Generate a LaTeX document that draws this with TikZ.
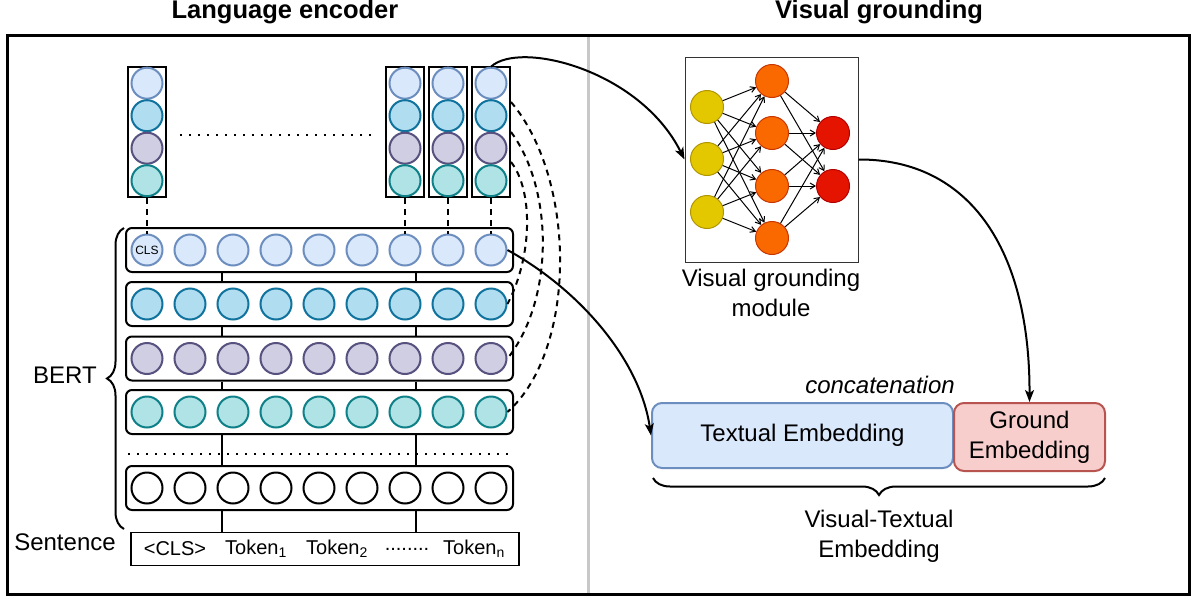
\documentclass[tikz,border=0pt]{standalone}
\usepackage{fontspec}
\setmainfont{Liberation Sans}
\usetikzlibrary{arrows.meta,decorations.pathreplacing,calc}
\definecolor{lbF}{HTML}{DAE8FC}\definecolor{lbD}{HTML}{6C8EBF}
\definecolor{blF}{HTML}{B1DDF0}\definecolor{blD}{HTML}{10739E}
\definecolor{puF}{HTML}{D0CEE2}\definecolor{puD}{HTML}{56517E}
\definecolor{teF}{HTML}{B0E3E6}\definecolor{teD}{HTML}{0E8088}
\definecolor{yeF}{HTML}{E3C800}\definecolor{yeD}{HTML}{B09500}
\definecolor{orF}{HTML}{FA6800}\definecolor{orD}{HTML}{C73500}
\definecolor{rdF}{HTML}{E51400}\definecolor{rdD}{HTML}{B20000}
\definecolor{roF}{HTML}{F8CECC}\definecolor{roD}{HTML}{B85450}
\definecolor{divgray}{HTML}{C8C8C8}
\begin{document}
\begin{tikzpicture}[x=1pt,y=-1pt,
  font=\fontsize{24}{30}\selectfont,
  cir/.style={circle,minimum size=31pt,inner sep=0pt,line width=2pt},
  cLB/.style={cir,fill=lbF,draw=lbD},
  cBL/.style={cir,fill=blF,draw=blD},
  cPU/.style={cir,fill=puF,draw=puD},
  cTE/.style={cir,fill=teF,draw=teD},
  cWH/.style={cir,fill=white,draw=black},
  nnc/.style={circle,minimum size=33pt,inner sep=0pt,line width=1pt},
  rowbox/.style={draw,line width=2pt,rounded corners=6pt,minimum width=387pt,minimum height=44pt,inner sep=0pt},
  colbox/.style={draw,line width=2pt,minimum width=38pt,minimum height=130pt,inner sep=0pt},
  conn/.style={line width=2pt},
  dashln/.style={line width=2pt,dash pattern=on 6pt off 5pt},
  dotln/.style={line width=2pt,dash pattern=on 2pt off 7pt},
  arr/.style={line width=2pt,-{Stealth[length=12pt,width=9pt,inset=3pt]}},
  nnarr/.style={line width=1pt,-{Straight Barb[length=5pt,width=6pt]}},
  bracedec/.style={line width=2pt,decorate,decoration={brace,amplitude=17pt}},
  embox/.style={line width=2pt,rounded corners=10pt,inner sep=0pt,align=center}
]
\useasboundingbox (0,0) rectangle (1195,600);

% titles
\node[font=\bfseries\fontsize{25.5}{30}\selectfont] (tl) at (285,12) {Language encoder};
\node[font=\bfseries\fontsize{25.5}{30}\selectfont] (tr) at (879,12) {Visual grounding};

% frame and divider
\draw[divgray,line width=3pt] (588,36) -- (588,593);
\draw[line width=3pt] (7,35) rectangle (1189,594);

% helper x coordinates for layer links
\coordinate (xa) at (222,0);
\coordinate (xb) at (416,0);

% layer rows
\node[rowbox] (row1) at (319.5,250) {};
\node[rowbox] (row2) at (319.5,304) {};
\node[rowbox] (row3) at (319.5,358.5) {};
\node[rowbox] (row4) at (319.5,412) {};
\node[rowbox] (row5) at (319.5,488) {};

\foreach \i in {1,...,9}{
  \node[cLB] (r1c\i) at ({147+43*(\i-1)},250) {};
  \node[cBL] (r2c\i) at ({147+43*(\i-1)},304) {};
  \node[cPU] (r3c\i) at ({147+43*(\i-1)},358.5) {};
  \node[cTE] (r4c\i) at ({147+43*(\i-1)},412) {};
  \node[cWH] (r5c\i) at ({147+43*(\i-1)},488) {};
}
\node[font=\fontsize{12}{14}\selectfont] at (r1c1) {CLS};

% sentence box
\node[draw,line width=1.5pt,minimum width=388pt,minimum height=33pt,inner sep=0pt] (sent) at (325,549) {};
\begin{scope}[font=\fontsize{20}{24}\selectfont]
\node (tk0) at (175,549) {<CLS>};
\node (tk1) at (256,549) {Token\textsubscript{1}};
\node (tk2) at (337,549) {Token\textsubscript{2}};
\node (tk3) at (407,549) {........};
\node (tkn) at (474,549) {Token\textsubscript{n}};
\end{scope}
\node (sentlbl) at (65,542) {Sentence};

% links between rows
\foreach \a/\b in {row1/row2,row2/row3,row3/row4,row4/row5,row5/sent}{
  \draw[conn] (\a.south -| xa) -- (\b.north -| xa);
  \draw[conn] (\a.south -| xb) -- (\b.north -| xb);
}
\draw[dotln] (128,454) -- (510,454);

% BERT brace
\draw[bracedec] (124,529) -- (124,228);
\node (bert) at (65,375) {BERT};

% token columns
\foreach \k in {1,7,8,9}{
  \node[colbox] (col\k) at ({147+43*(\k-1)},132) {};
  \node[cLB] (t\k a) at ({147+43*(\k-1)},83.2) {};
  \node[cBL] (t\k b) at ({147+43*(\k-1)},115.7) {};
  \node[cPU] (t\k c) at ({147+43*(\k-1)},148.2) {};
  \node[cTE] (t\k d) at ({147+43*(\k-1)},180.7) {};
  \draw[dashln] (col\k.south) -- (r1c\k.north);
}
\draw[dotln] (180,135) -- (372,135);

% dashed curves from last token column to layers
\draw[dashln] ($(col9.north east)+(0,36)$) .. controls (577,180) and (577,350) .. (r4c9.east);
\draw[dashln] ($(col9.north east)+(0,66)$) .. controls (554,190) and (554,300) .. (r3c9.east);
\draw[dashln] ($(col9.north east)+(0,96)$) .. controls (533,190) and (533,255) .. (r2c9.east);

% visual grounding network
\node[draw=black!80,line width=1pt,minimum width=173pt,minimum height=205pt,inner sep=0pt] (nn) at (771.5,159.5) {};
\node[nnc,fill=yeF,draw=yeD] (y1) at (707,107) {};
\node[nnc,fill=yeF,draw=yeD] (y2) at (707,159) {};
\node[nnc,fill=yeF,draw=yeD] (y3) at (707,212) {};
\node[nnc,fill=orF,draw=orD] (o1) at (772,81) {};
\node[nnc,fill=orF,draw=orD] (o2) at (772,133) {};
\node[nnc,fill=orF,draw=orD] (o3) at (772,186) {};
\node[nnc,fill=orF,draw=orD] (o4) at (772,238) {};
\node[nnc,fill=rdF,draw=rdD] (d1) at (833,133) {};
\node[nnc,fill=rdF,draw=rdD] (d2) at (833,186) {};
\foreach \a in {1,2,3}{\foreach \b in {1,...,4}{\draw[nnarr] (y\a) -- (o\b);}}
\foreach \a in {1,...,4}{\foreach \b in {1,2}{\draw[nnarr] (o\a) -- (d\b);}}
\node[align=center] (nnlbl) at (771,293) {Visual grounding\\module};

% embeddings
\node[embox,fill=lbF,draw=lbD,minimum width=301pt,minimum height=65pt] (temb) at (802.5,435.5) {Textual Embedding};
\node[embox,fill=roF,draw=roD,minimum width=151pt,minimum height=68pt] (gemb) at (1029.5,437) {Ground\\Embedding};
\node[font=\itshape\fontsize{24}{30}\selectfont] (concat) at (880,385) {concatenation};
\draw[bracedec] (1105,478) -- (653,478);
\node[align=center] (vt) at (879,536) {Visual-Textual\\Embedding};

% arrows
\draw[arr] (t9a.north) .. controls (520,40) and (640,70) .. (nn.west);
\draw[arr] (nn.east) .. controls (970,159) and (1030,250) .. (gemb.north);
\draw[arr] (r1c9.east) .. controls (580,290) and (640,360) .. (temb.west);
\end{tikzpicture}
\end{document}
